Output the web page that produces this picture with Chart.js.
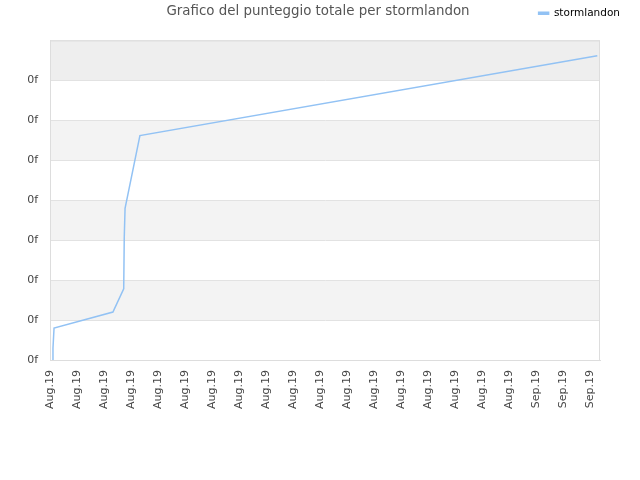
<!DOCTYPE html>
<html>
<head>
<meta charset="utf-8">
<script src="https://cdn.jsdelivr.net/npm/chart.js@4.4.1/dist/chart.umd.min.js"></script>
<style>
  html, body { margin: 0; padding: 0; background: #fff; }
  #box { width: 640px; height: 480px; }
</style>
</head>
<body>
<div id="box"><canvas id="grafico"></canvas></div>
<script>
// etichette asse x (una per tacca)
var etichetteX = ['Aug.19','Aug.19','Aug.19','Aug.19','Aug.19','Aug.19','Aug.19',
                  'Aug.19','Aug.19','Aug.19','Aug.19','Aug.19','Aug.19','Aug.19',
                  'Aug.19','Aug.19','Aug.19','Aug.19','Sep.19','Sep.19','Sep.19'];
var etichettaY = '0f';
var titolo = 'Grafico del punteggio totale per stormlandon';
var giocatore = 'stormlandon';

// punteggio nel tempo (posizione sulla scala dei giorni, valore)
var tempi = [0.10, 0.11, 0.15, 2.33, 2.73, 2.75, 2.78, 3.33, 20.27];
var punteggi = [0, 0.30, 0.80, 1.20, 1.78, 3.07, 3.80, 5.62, 7.62];

var punti = [];
for (var i = 0; i < tempi.length; i++) {
  punti.push({x: tempi[i], y: punteggi[i]});
}

var bande = {
  id: 'bande',
  beforeDraw: function(chart) {
    var ctx = chart.ctx;
    var a = chart.chartArea;
    var y = chart.scales.y;
    ctx.save();
    for (var v = 0; v < 8; v++) {
      var colore = null;
      if (v == 7) colore = '#eeeeee';
      else if (v % 2 == 1) colore = '#f3f3f3';
      if (colore) {
        var t = y.getPixelForValue(v + 1);
        var b = y.getPixelForValue(v);
        ctx.fillStyle = colore;
        ctx.fillRect(a.left, t, a.right - a.left, b - t);
      }
    }
    ctx.restore();
  },
  beforeDatasetsDraw: function(chart) {
    var ctx = chart.ctx;
    var a = chart.chartArea;
    ctx.save();
    ctx.strokeStyle = '#dddddd';
    ctx.lineWidth = 1;
    ctx.strokeRect(a.left + 0.5, a.top + 0.5, a.right - a.left - 1, a.bottom - a.top);
    ctx.restore();
  },
  afterDraw: function(chart) {
    var ctx = chart.ctx;
    ctx.save();
    ctx.font = '13.4px "DejaVu Sans"';
    ctx.fillStyle = '#555555';
    ctx.textAlign = 'center';
    ctx.textBaseline = 'middle';
    ctx.fillText(titolo, 318, 12);
    ctx.restore();
  }
};

var contesto = document.getElementById('grafico').getContext('2d');
var grafico = new Chart(contesto, {
  type: 'line',
  data: {
    datasets: [{
      label: giocatore,
      data: punti,
      borderColor: '#92c2f4',
      backgroundColor: '#92c2f4',
      borderWidth: 1.5,
      pointRadius: 0,
      fill: false,
      tension: 0
    }]
  },
  options: {
    responsive: true,
    maintainAspectRatio: false,
    animation: false,
    layout: { padding: { left: 0, right: 12, top: 0, bottom: 0 } },
    plugins: {
      title: { display: false },
      tooltip: { enabled: false },
      legend: {
        display: true,
        position: 'top',
        align: 'end',
        labels: {
          boxWidth: 10,
          boxHeight: 2,
          color: '#000000',
          font: { family: 'DejaVu Sans', size: 10.5 },
          padding: 8
        }
      }
    },
    scales: {
      x: {
        type: 'linear',
        min: 0,
        max: 20.37,
        grid: { display: false, drawTicks: false },
        border: { display: true, color: '#dddddd' },
        ticks: {
          stepSize: 1,
          includeBounds: false,
          autoSkip: false,
          maxRotation: 90,
          minRotation: 90,
          padding: 10,
          color: '#444444',
          font: { family: 'DejaVu Sans', size: 11 },
          callback: function(v) { return etichetteX[v] || ''; }
        },
        afterFit: function(s) { s.height = 120; }
      },
      alto: {
        type: 'linear',
        position: 'top',
        display: true,
        grid: { display: false, drawTicks: false },
        border: { display: false },
        ticks: { display: false },
        afterFit: function(s) { s.height = 12; }
      },
      y: {
        min: 0,
        max: 8,
        grid: { color: '#e2e2e2', drawTicks: false },
        border: { display: true, color: '#dddddd' },
        ticks: {
          stepSize: 1,
          padding: 12,
          color: '#444444',
          font: { family: 'DejaVu Sans', size: 11 },
          callback: function(v) { return v < 8 ? etichettaY : ''; }
        },
        afterFit: function(s) { s.width = 50; }
      },
      destra: {
        position: 'right',
        display: true,
        grid: { display: false, drawTicks: false },
        border: { display: false },
        ticks: { display: false },
        afterFit: function(s) { s.width = 28; }
      }
    }
  },
  plugins: [bande]
});
</script>
</body>
</html>
